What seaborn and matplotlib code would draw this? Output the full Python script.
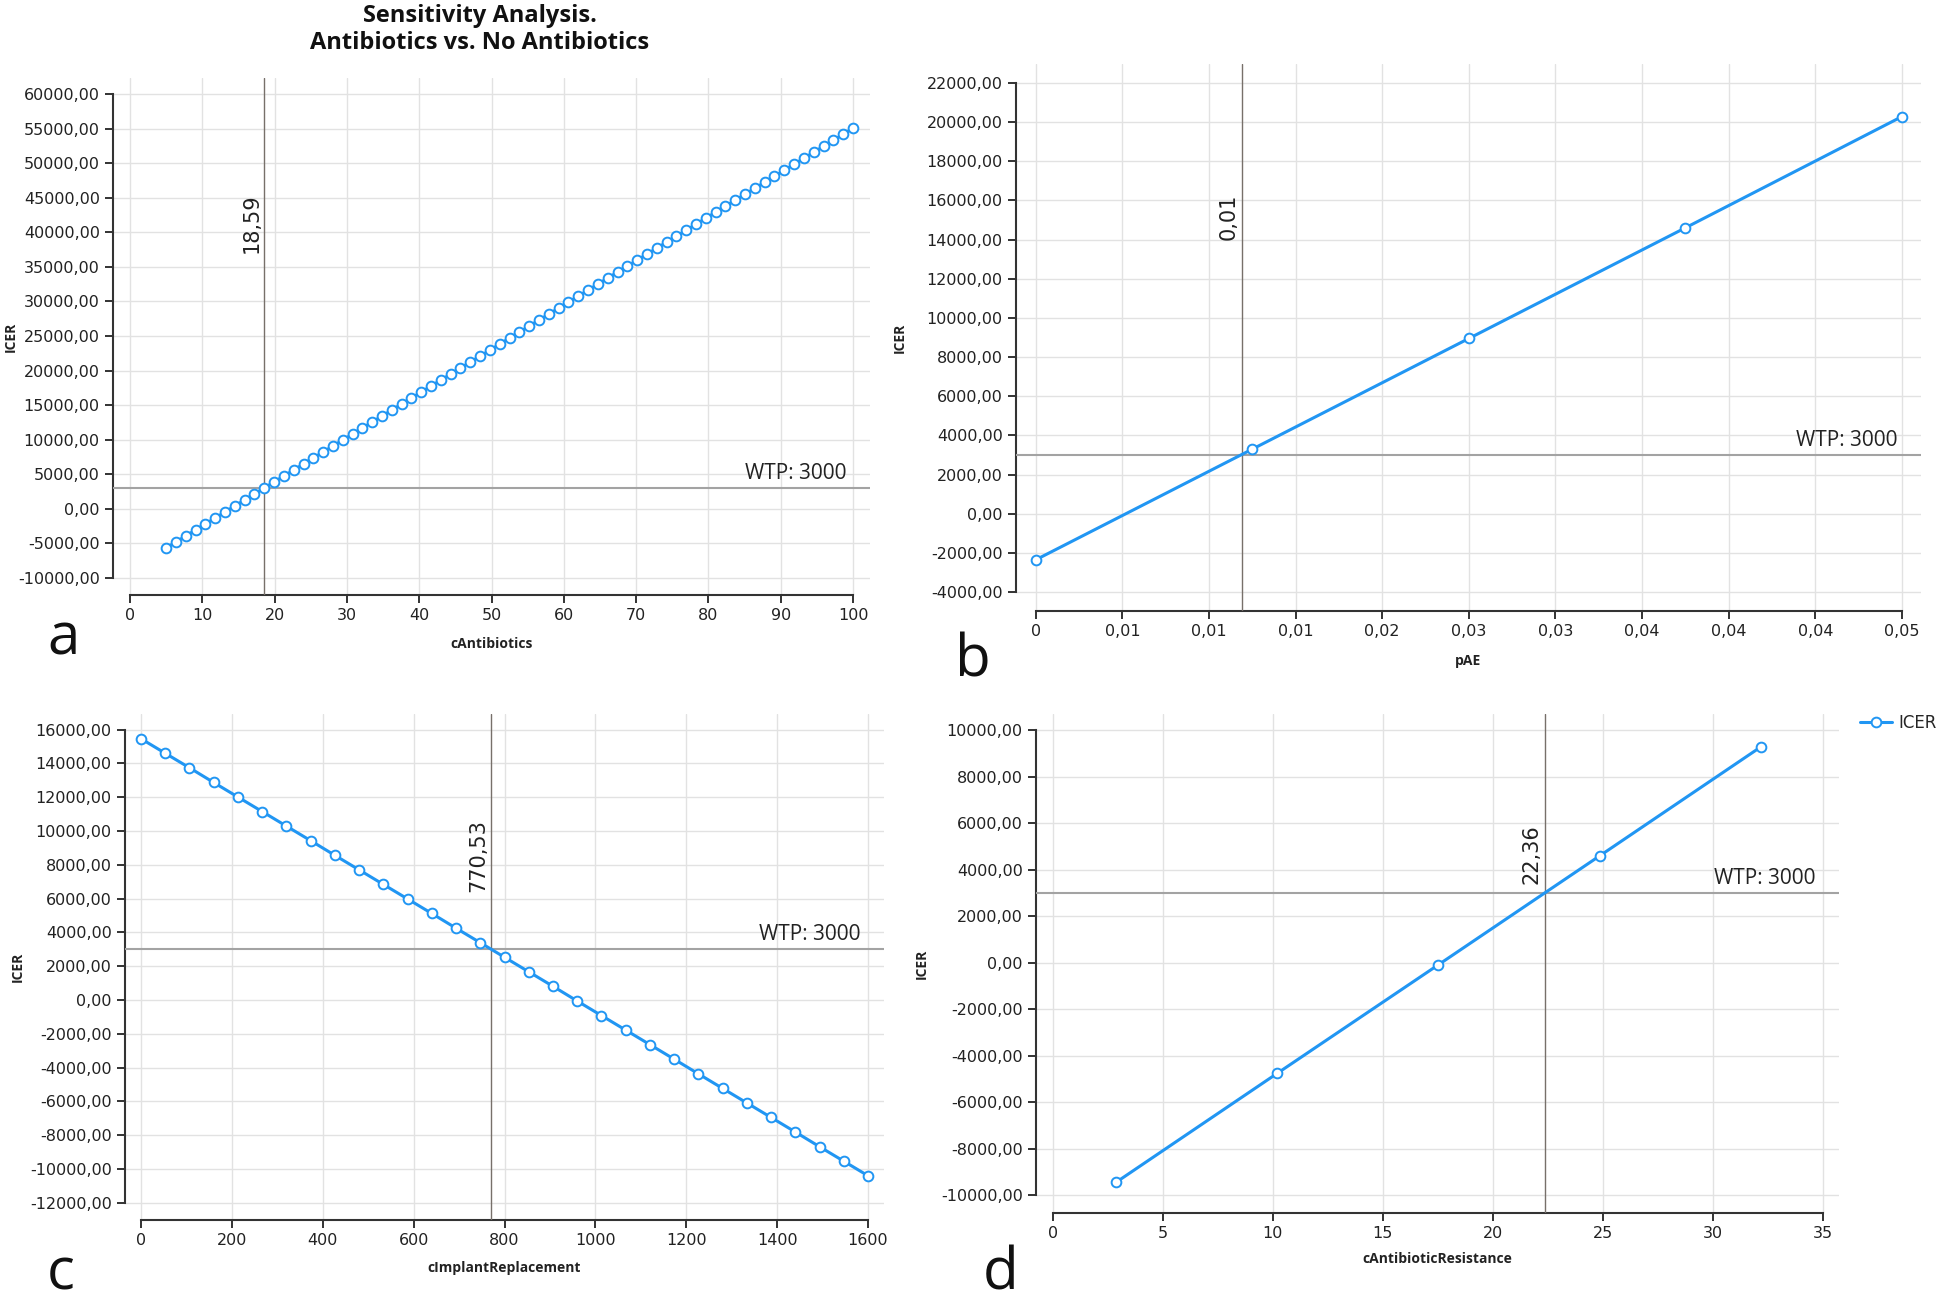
import matplotlib
matplotlib.use("Agg")
import matplotlib.pyplot as plt
from matplotlib.ticker import FuncFormatter
import seaborn as sns

# ---- panel a: cAntibiotics
a_x = [5.00, 6.36, 7.71, 9.07, 10.43, 11.79, 13.14, 14.50, 15.86, 17.21,
       18.57, 19.93, 21.29, 22.64, 24.00, 25.36, 26.71, 28.07, 29.43, 30.79,
       32.14, 33.50, 34.86, 36.21, 37.57, 38.93, 40.29, 41.64, 43.00, 44.36,
       45.71, 47.07, 48.43, 49.79, 51.14, 52.50, 53.86, 55.21, 56.57, 57.93,
       59.29, 60.64, 62.00, 63.36, 64.71, 66.07, 67.43, 68.79, 70.14, 71.50,
       72.86, 74.21, 75.57, 76.93, 78.29, 79.64, 81.00, 82.36, 83.71, 85.07,
       86.43, 87.79, 89.14, 90.50, 91.86, 93.21, 94.57, 95.93, 97.29, 98.64,
       100.00]
a_icer = [-5650, -4780, -3920, -3050, -2180, -1320, -450, 420, 1290, 2150,
          3020, 3890, 4750, 5620, 6490, 7360, 8220, 9090, 9960, 10820,
          11690, 12560, 13420, 14290, 15160, 16030, 16890, 17760, 18630, 19490,
          20360, 21230, 22090, 22960, 23830, 24700, 25560, 26430, 27300, 28160,
          29030, 29900, 30760, 31630, 32500, 33370, 34230, 35100, 35970, 36830,
          37700, 38570, 39430, 40300, 41170, 42040, 42900, 43770, 44640, 45500,
          46370, 47240, 48100, 48970, 49840, 50710, 51570, 52440, 53310, 54170,
          55040]
a_xticks = [0, 10, 20, 30, 40, 50, 60, 70, 80, 90, 100]
a_yticks = [-10000, -5000, 0, 5000, 10000, 15000, 20000, 25000, 30000,
            35000, 40000, 45000, 50000, 55000, 60000]

# ---- panel b: pAE
b_x = [0, 0.0125, 0.025, 0.0375, 0.05]
b_icer = [-2350, 3300, 8950, 14600, 20280]
b_xticks = [0, 0.005, 0.01, 0.015, 0.02, 0.025, 0.03, 0.035, 0.04, 0.045, 0.05]
b_xticklabels = ["0", "0,01", "0,01", "0,01", "0,02", "0,03", "0,03",
                 "0,04", "0,04", "0,04", "0,05"]
b_yticks = [-4000, -2000, 0, 2000, 4000, 6000, 8000, 10000, 12000,
            14000, 16000, 18000, 20000, 22000]

# ---- panel c: cImplantReplacement
c_x = [0, 53.3, 106.7, 160, 213.3, 266.7, 320, 373.3, 426.7, 480, 533.3,
       586.7, 640, 693.3, 746.7, 800, 853.3, 906.7, 960, 1013.3, 1066.7,
       1120, 1173.3, 1226.7, 1280, 1333.3, 1386.7, 1440, 1493.3, 1546.7, 1600]
c_icer = [15460, 14600, 13740, 12870, 12010, 11150, 10290, 9430, 8560, 7700,
          6840, 5980, 5120, 4250, 3390, 2530, 1670, 810, -60, -920, -1780,
          -2640, -3500, -4370, -5230, -6090, -6950, -7810, -8680, -9540, -10400]
c_xticks = [0, 200, 400, 600, 800, 1000, 1200, 1400, 1600]
c_yticks = [-12000, -10000, -8000, -6000, -4000, -2000, 0, 2000, 4000,
            6000, 8000, 10000, 12000, 14000, 16000]

# ---- panel d: cAntibioticResistance
d_x = [2.88, 10.20, 17.53, 24.86, 32.18]
d_icer = [-9440, -4760, -90, 4590, 9270]
d_xticks = [0, 5, 10, 15, 20, 25, 30, 35]
d_yticks = [-10000, -8000, -6000, -4000, -2000, 0, 2000, 4000, 6000, 8000, 10000]

wtp = 3000
thresholds = [18.59, 0.01188, 770.53, 22.36]
threshold_labels = ["18,59", "0,01", "770,53", "22,36"]
xlabels = ["cAntibiotics", "pAE", "cImplantReplacement", "cAntibioticResistance"]
letters = ["a", "b", "c", "d"]

BLUE = "#2196f3"
W, H = 1944, 1302

sns.set_theme(style="whitegrid", rc={
    "axes.edgecolor": "#333333", "axes.linewidth": 1.5,
    "grid.color": "#e2e2e2", "grid.linewidth": 1.0,
    "xtick.bottom": True, "ytick.left": True,
    "xtick.major.size": 6, "ytick.major.size": 6,
    "xtick.major.width": 1.4, "ytick.major.width": 1.4,
    "xtick.color": "#333333", "ytick.color": "#333333",
})
narrow = ["Liberation Sans Narrow", "DejaVu Sans"]
plt.rcParams["font.family"] = ["Open Sans", "DejaVu Sans"]

fig = plt.figure(figsize=(W / 100, H / 100), dpi=100)

# axes boxes in pixels: left, top, right, bottom
boxes = [(113, 78, 870, 595), (1016, 64, 1921, 611), (125, 714, 884, 1220), (1036, 714, 1839, 1213)]
lims = [((-2.35, 102.35), (-12460, 62310)),
        ((-0.00114, 0.0511), (-4964, 22964)),
        ((-35.2, 1635.2), (-13018, 16923)),
        ((-0.77, 35.74), (-10766, 10688))]
ylabel_off = [101, 115, 106, 113]
xlabel_off = [49, 50, 48, 46]
letter_pos = [(47, 655), (955, 676), (47, 1290), (983, 1290)]

xs = [a_x, b_x, c_x, d_x]
ys = [a_icer, b_icer, c_icer, d_icer]
xticks = [a_xticks, b_xticks, c_xticks, d_xticks]
yticks = [a_yticks, b_yticks, c_yticks, d_yticks]

yfmt = FuncFormatter(lambda v, p: f"{v:.2f}".replace(".", ","))

for i in range(4):
    l, t, r, b = boxes[i]
    ax = fig.add_axes([l / W, 1 - b / H, (r - l) / W, (b - t) / H])
    sns.lineplot(x=xs[i], y=ys[i], ax=ax, color=BLUE, lw=2.2, marker="o",
                 markersize=7, markerfacecolor="white", markeredgecolor=BLUE,
                 markeredgewidth=1.4, label="ICER", legend=False, zorder=5)
    ax.set_xlim(*lims[i][0])
    ax.set_ylim(*lims[i][1])
    ax.set_xticks(xticks[i])
    ax.set_yticks(yticks[i])
    sns.despine(ax=ax, trim=True)
    ax.yaxis.set_major_formatter(yfmt)
    if i == 1:
        ax.set_xticklabels(b_xticklabels)
    for lab in ax.get_xticklabels() + ax.get_yticklabels():
        lab.set_family(narrow)
        lab.set_fontsize(11.5)
        lab.set_color("#222222")

    ax.axhline(wtp, color="#a3a3a3", lw=1.5, zorder=3)
    ax.axvline(thresholds[i], color="#77706a", lw=1.0, zorder=3)
    ax.annotate(threshold_labels[i], xy=(thresholds[i], 0.72),
                xycoords=("data", "axes fraction"), xytext=(-2, 0),
                textcoords="offset points", rotation=90, ha="right",
                va="center", fontsize=15, family="DejaVu Sans", color="#222222")
    ax.annotate("WTP: 3000", xy=(1 - 24 / (r - l), wtp),
                xycoords=("axes fraction", "data"), xytext=(0, 3),
                textcoords="offset points", ha="right", va="bottom",
                fontsize=15, color="#222222")

    ax.set_xlabel(xlabels[i], fontsize=10, fontweight="bold", color="#222222")
    ax.set_ylabel("ICER", fontsize=10, fontweight="bold", color="#222222")
    ax.xaxis.set_label_coords(0.5, -(xlabel_off[i] - 7) / (b - t))
    ax.yaxis.set_label_coords(-(ylabel_off[i] - 6) / (r - l), 0.5)

    lx, ly = letter_pos[i]
    fig.text(lx / W, 1 - ly / H, letters[i], fontsize=42, ha="left",
             va="baseline", color="#111111")

    if i == 3:
        handles, labs = ax.get_legend_handles_labels()
        fig.legend(handles, labs, loc="center left",
                   bbox_to_anchor=(1860 / W, 1 - 723 / H), frameon=False,
                   handlelength=1.9, handletextpad=0.4, borderpad=0,
                   borderaxespad=0, prop={"family": narrow, "size": 12})

fig.text(480 / W, 1 - 4 / H, "Sensitivity Analysis.\nAntibiotics vs. No Antibiotics",
         ha="center", va="top", fontsize=17, fontweight="bold", linespacing=1.15,
         color="#111111")

fig.savefig("out.png", dpi=100, facecolor="white")
